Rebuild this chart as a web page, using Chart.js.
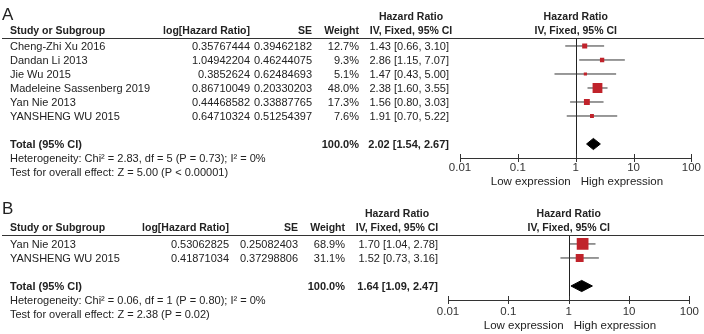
<!DOCTYPE html>
<html>
<head>
<meta charset="utf-8">
<script src="https://cdn.jsdelivr.net/npm/chart.js@4.4.0/dist/chart.umd.min.js"></script>
<style>
  body { margin: 0; background: #fff; width: 704px; height: 334px; overflow: hidden; position: relative; }
  canvas { position: absolute; left: 0; }
</style>
</head>
<body>
<canvas id="chartA" width="704" height="190" style="top:0"></canvas>
<canvas id="chartB" width="704" height="144" style="top:190px"></canvas>
<script>
// ---- Panel A data ----
const studiesA = ["Cheng-Zhi Xu 2016", "Dandan Li 2013", "Jie Wu 2015", "Madeleine Sassenberg 2019", "Yan Nie 2013", "YANSHENG WU 2015"];
const logHrA = ["0.35767444", "1.04942204", "0.3852624", "0.86710049", "0.44468582", "0.64710324"];
const seA = ["0.39462182", "0.46244075", "0.62484693", "0.20330203", "0.33887765", "0.51254397"];
const weightA = [12.7, 9.3, 5.1, 48.0, 17.3, 7.6];
const hrA = [1.43, 2.86, 1.47, 2.38, 1.56, 1.91];
const lowA = [0.66, 1.15, 0.43, 1.60, 0.80, 0.70];
const highA = [3.10, 7.07, 5.00, 3.55, 3.03, 5.22];
const totalA = [2.02, 1.54, 2.67]; // estimate, lower, upper
const hetA = "Heterogeneity: Chi² = 2.83, df = 5 (P = 0.73); I² = 0%";
const testA = "Test for overall effect: Z = 5.00 (P < 0.00001)";

// ---- Panel B data ----
const studiesB = ["Yan Nie 2013", "YANSHENG WU 2015"];
const logHrB = ["0.53062825", "0.41871034"];
const seB = ["0.25082403", "0.37298806"];
const weightB = [68.9, 31.1];
const hrB = [1.70, 1.52];
const lowB = [1.04, 0.73];
const highB = [2.78, 3.16];
const totalB = [1.64, 1.09, 2.47];
const hetB = "Heterogeneity: Chi² = 0.06, df = 1 (P = 0.80); I² = 0%";
const testB = "Test for overall effect: Z = 2.38 (P = 0.02)";

// ---- axis ----
const axisTicks = [0.01, 0.1, 1, 10, 100];
const tickLabels = ["0.01", "0.1", "1", "10", "100"];

const FONT = '"Liberation Sans", Arial, sans-serif';
const TEXT = '#222';
const SQUARE = '#c0232b';

function fmtCI(est, lo, hi) {
    return `${est.toFixed(2)} [${lo.toFixed(2)}, ${hi.toFixed(2)}]`;
}

function txt(ctx, s, x, y, align, bold, size) {
    ctx.font = `${bold ? 'bold ' : ''}${size || 11}px ${FONT}`;
    ctx.textAlign = align;
    ctx.textBaseline = 'middle';
    ctx.fillStyle = TEXT;
    ctx.fillText(s, x, y);
}

// text columns, rules, null line and tick marks
function tablePlugin(p) {
    return {
        id: 'forestTable',
        beforeDatasetsDraw(chart) {
            const ctx = chart.ctx, xs = chart.scales.x, area = chart.chartArea;
            const nx = Math.round(xs.getPixelForValue(1)) + 0.5;
            ctx.save();
            ctx.strokeStyle = '#222';
            ctx.lineWidth = 1;
            ctx.beginPath();
            ctx.moveTo(nx, area.top);
            ctx.lineTo(nx, area.bottom);
            ctx.stroke();
            ctx.restore();
        },
        afterDraw(chart) {
            const ctx = chart.ctx, xs = chart.scales.x, ys = chart.scales.y, area = chart.chartArea;
            const c = p.cols;
            const row = (i) => ys.getPixelForValue(i) + 1;
            ctx.save();

            // panel letter
            txt(ctx, p.letter, 2, p.letterY, 'left', false, 17);

            // headers
            const h1 = area.top - 21, h2 = area.top - 7;
            txt(ctx, "Study or Subgroup", 10, h2, 'left', true, 10.5);
            txt(ctx, "log[Hazard Ratio]", c.logHr, h2, 'right', true, 10.5);
            txt(ctx, "SE", c.se, h2, 'right', true, 10.5);
            txt(ctx, "Weight", c.weight, h2, 'right', true, 10.5);
            txt(ctx, "Hazard Ratio", c.hrMid, h1, 'center', true, 10.5);
            txt(ctx, "IV, Fixed, 95% CI", c.hrMid, h2, 'center', true, 10.5);
            const nx = xs.getPixelForValue(1);
            txt(ctx, "Hazard Ratio", nx, h1, 'center', true, 10.5);
            txt(ctx, "IV, Fixed, 95% CI", nx, h2, 'center', true, 10.5);

            ctx.strokeStyle = '#333';
            ctx.lineWidth = 1;
            ctx.beginPath();
            ctx.moveTo(2, Math.round(area.top) + 0.5);
            ctx.lineTo(704, Math.round(area.top) + 0.5);
            ctx.stroke();

            // study rows
            p.studies.forEach((s, i) => {
                const y = row(i);
                txt(ctx, s, 10, y, 'left');
                txt(ctx, p.logHr[i], c.logHr, y, 'right');
                txt(ctx, p.se[i], c.se, y, 'right');
                txt(ctx, p.weight[i].toFixed(1) + '%', c.weight, y, 'right');
                txt(ctx, fmtCI(p.hr[i], p.low[i], p.high[i]), c.hr, y, 'right');
            });

            // total row
            const ty = row(p.totalRow);
            txt(ctx, "Total (95% CI)", 10, ty, 'left', true);
            txt(ctx, "100.0%", c.weight, ty, 'right', true);
            txt(ctx, fmtCI(p.total[0], p.total[1], p.total[2]), c.hr, ty, 'right', true);

            txt(ctx, p.het, 10, row(p.totalRow + 1), 'left');
            txt(ctx, p.test, 10, row(p.totalRow + 2), 'left');

            // tick marks across the axis line
            ctx.strokeStyle = '#333';
            axisTicks.forEach(v => {
                const tx = Math.round(xs.getPixelForValue(v)) + 0.5;
                ctx.beginPath();
                ctx.moveTo(tx, area.bottom - 4);
                ctx.lineTo(tx, area.bottom + 4);
                ctx.stroke();
            });

            const ly = area.bottom + p.legendGap;
            txt(ctx, "Low expression", nx - 5, ly, 'right', false, 11.5);
            txt(ctx, "High expression", nx + 5, ly, 'left', false, 11.5);
            ctx.restore();
        }
    };
}

function makeForest(id, p) {
    const datasets = [];
    // squares sized by weight
    datasets.push({
        data: p.hr.map((v, i) => ({ x: v, y: i })),
        pointStyle: 'rect',
        pointRadius: p.weight.map(w => Math.sqrt(w)),
        backgroundColor: SQUARE,
        borderWidth: 0,
        showLine: false,
        order: 0
    });
    // confidence interval whiskers
    p.studies.forEach((s, i) => {
        datasets.push({
            data: [{ x: p.low[i], y: i }, { x: p.high[i], y: i }],
            showLine: true,
            borderColor: '#333',
            borderWidth: 1,
            pointRadius: 0,
            order: 1
        });
    });
    // pooled estimate diamond
    const r = p.totalRow, d = 0.4;
    datasets.push({
        data: [
            { x: p.total[1], y: r },
            { x: p.total[0], y: r - d },
            { x: p.total[2], y: r },
            { x: p.total[0], y: r + d },
            { x: p.total[1], y: r }
        ],
        showLine: true,
        fill: 'shape',
        backgroundColor: '#000',
        borderColor: '#000',
        borderWidth: 1,
        pointRadius: 0,
        tension: 0,
        order: 0
    });

    return new Chart(document.getElementById(id), {
        type: 'scatter',
        data: { datasets },
        plugins: [tablePlugin(p)],
        options: {
            responsive: false,
            devicePixelRatio: 1,
            animation: false,
            events: [],
            layout: { padding: { left: p.plotLeft, right: 704 - p.plotRight, top: p.top, bottom: 0 } },
            plugins: { legend: { display: false }, tooltip: { enabled: false } },
            scales: {
                x: {
                    type: 'logarithmic',
                    min: 0.01,
                    max: 100,
                    afterBuildTicks: (scale) => { scale.ticks = axisTicks.map(v => ({ value: v })); },
                    afterFit: (scale) => { scale.height = p.axisSpace; },
                    ticks: {
                        autoSkip: false,
                        maxRotation: 0,
                        padding: p.tickPad,
                        color: '#333',
                        font: { family: FONT, size: 11.5 },
                        callback: (v, i) => tickLabels[i]
                    },
                    grid: { display: true, drawOnChartArea: false, drawTicks: false },
                    border: { display: true, color: '#333', width: 1 }
                },
                y: {
                    type: 'linear',
                    reverse: true,
                    min: p.yMin,
                    max: p.yMax,
                    display: false
                }
            }
        }
    });
}

makeForest('chartA', {
    letter: 'A', letterY: 15,
    studies: studiesA, logHr: logHrA, se: seA, weight: weightA,
    hr: hrA, low: lowA, high: highA, total: totalA, totalRow: 7,
    het: hetA, test: testA,
    cols: { logHr: 250, se: 312, weight: 359, hr: 449, hrMid: 411 },
    plotLeft: 460, plotRight: 693, top: 38, axisSpace: 32,
    yMin: -0.57, yMax: 8, legendGap: 24, tickPad: 3
});

makeForest('chartB', {
    letter: 'B', letterY: 19,
    studies: studiesB, logHr: logHrB, se: seB, weight: weightB,
    hr: hrB, low: lowB, high: highB, total: totalB, totalRow: 3,
    het: hetB, test: testB,
    cols: { logHr: 229, se: 298, weight: 345, hr: 438, hrMid: 397 },
    plotLeft: 448, plotRight: 693, top: 45, axisSpace: 34,
    yMin: -0.64, yMax: 4, legendGap: 26, tickPad: 5
});
</script>
</body>
</html>
